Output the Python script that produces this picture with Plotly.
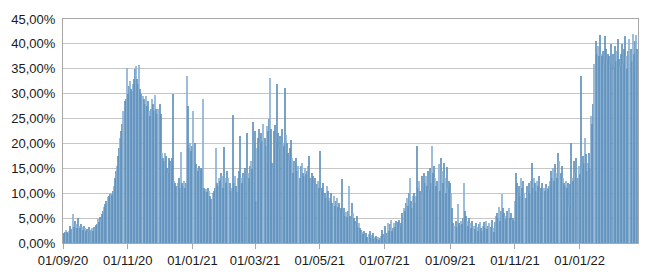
import pandas as pd
import plotly.graph_objects as go

# Daily values (%), one list per month
sep20 = [1.8, 2.0, 2.3, 2.6, 2.2, 2.0, 2.5,
         3.5, 2.8, 5.8, 3.2, 4.5, 3.8, 3.0,
         5.0, 3.5, 3.0, 3.8, 3.3, 2.6, 3.5,
         3.0, 2.4, 2.8, 2.2, 3.2, 2.6, 3.0,
         2.5, 3.2]
oct20 = [3.0, 3.6, 3.8, 4.8, 4.2, 5.3, 4.5,
         5.8, 6.5, 7.2, 7.8, 8.5, 9.2, 9.5,
         9.8, 10.0, 9.6, 10.5, 11.5, 13.0, 14.5,
         15.5, 17.5, 19.0, 21.0, 22.5, 24.0, 26.5,
         28.5, 29.0, 35.2]
nov20 = [30.0, 31.5, 32.5, 31.0, 30.5, 32.0, 33.0,
         35.0, 35.5, 33.0, 32.0, 35.8, 31.0, 30.0,
         29.5, 29.0, 28.0, 29.5, 27.5, 28.5, 26.5,
         25.5, 27.0, 29.0, 28.0, 26.5, 29.8, 27.0,
         26.0, 27.0]
dec20 = [28.0, 26.0, 18.0, 17.0, 16.5, 18.0, 17.5,
         15.0, 14.0, 17.0, 16.5, 15.5, 17.0, 30.0,
         12.5, 12.0, 11.5, 12.0, 13.0, 11.0, 18.3,
         12.0, 11.5, 12.5, 11.0, 12.0, 33.5, 27.6,
         19.0, 20.0, 18.5]
jan21 = [19.5, 26.6, 20.0, 15.8, 15.0, 14.5, 15.5,
         14.5, 15.0, 14.8, 29.0, 11.0, 10.5, 10.8,
         10.2, 11.0, 10.5, 9.5, 8.9, 10.0, 10.5,
         11.0, 19.0, 12.0, 11.5, 13.0, 12.5, 14.0,
         13.5, 11.0, 19.2]
feb21 = [13.0, 12.0, 14.5, 13.0, 12.0, 10.5, 11.0,
         25.7, 12.0, 13.5, 11.5, 10.2, 13.0, 14.5,
         21.4, 13.0, 12.0, 14.0, 13.5, 15.0, 22.0,
         14.0, 13.0, 15.5, 16.5, 14.8, 24.3, 20.0]
mar21 = [22.5, 8.5, 19.0, 21.0, 23.0, 20.0, 22.0,
         20.5, 24.0, 21.0, 19.5, 23.5, 22.5, 25.0,
         33.2, 23.0, 16.0, 15.0, 22.5, 23.7, 20.0,
         31.9, 22.0, 19.0, 21.5, 23.0, 20.0, 19.5,
         31.2, 21.7, 20.0]
apr21 = [18.0, 16.5, 19.0, 20.7, 17.0, 14.0, 16.5,
         16.0, 17.0, 14.5, 15.5, 13.0, 15.5, 16.0,
         14.0, 13.5, 15.0, 13.8, 14.5, 15.5, 17.5,
         13.0, 12.5, 14.0, 13.5, 12.0, 13.0, 11.8,
         12.5, 11.0]
may21 = [18.5, 10.5, 11.0, 12.0, 9.5, 10.0, 9.0,
         11.5, 10.5, 8.5, 9.0, 10.0, 8.0, 9.5,
         7.5, 8.5, 9.0, 7.2, 8.0, 6.5, 7.0,
         12.8, 6.0, 7.0, 5.5, 6.2, 5.3, 6.5,
         11.5, 5.5, 8.0]
jun21 = [6.0, 5.0, 4.5, 3.8, 5.5, 3.3, 4.0,
         3.0, 2.6, 2.2, 1.8, 2.5, 1.5, 2.0,
         1.2, 1.8, 2.4, 1.0, 1.6, 2.0, 0.8,
         1.2, 1.5, 0.9, 1.3, 0.7, 1.0, 1.4,
         2.6, 1.8]
jul21 = [1.3, 3.5, 2.0, 4.0, 2.5, 3.8, 4.6,
         2.5, 3.0, 4.0, 3.3, 4.5, 3.6, 4.2,
         4.6, 3.5, 4.0, 6.0, 7.0, 6.5, 8.0,
         9.0, 7.5, 10.0, 13.0, 8.5, 7.0, 9.5,
         10.0, 8.0, 9.5]
aug21 = [19.4, 11.0, 12.5, 10.5, 13.5, 10.0, 14.0,
         12.0, 13.5, 11.5, 14.5, 10.5, 15.0, 12.0,
         19.4, 14.0, 15.5, 13.0, 11.5, 12.5, 15.8,
         10.5, 17.0, 14.5, 12.0, 16.0, 13.0, 10.0,
         15.3, 11.0, 12.5]
sep21 = [12.0, 10.0, 7.0, 4.0, 3.5, 4.5, 3.3,
         7.9, 4.0, 3.6, 4.5, 3.8, 5.0, 12.0,
         6.5, 5.5, 4.5, 3.5, 5.0, 4.0, 3.0,
         4.5, 3.5, 2.8, 4.0, 3.2, 2.5, 3.8,
         4.2, 3.0]
oct21 = [2.5, 3.5, 4.2, 3.0, 4.5, 2.8, 3.5,
         4.0, 3.2, 4.6, 3.0, 2.2, 4.3, 5.5,
         6.0, 5.0, 7.2, 4.5, 6.5, 9.9, 7.0,
         6.0, 5.5, 4.8, 6.5, 7.0, 5.0, 6.0,
         4.6, 5.0, 4.5]
nov21 = [8.5, 14.1, 12.0, 10.0, 11.5, 9.5, 13.0,
         11.0, 12.5, 10.0, 9.0, 11.5, 10.5, 12.0,
         10.0, 12.5, 16.0, 11.0, 13.0, 12.0, 10.5,
         12.5, 11.5, 13.5, 10.5, 11.0, 12.0, 11.0,
         10.5, 11.8]
dec21 = [11.0, 10.8, 11.5, 12.5, 14.5, 13.0, 15.0,
         12.5, 15.8, 14.0, 13.0, 18.0, 16.5, 14.0,
         15.5, 13.0, 12.0, 11.5, 12.5, 11.0, 12.0,
         7.2, 11.8, 20.0, 13.0, 12.5, 16.5, 14.0,
         17.0, 13.0, 15.5]
jan22 = [13.8, 33.5, 15.0, 17.5, 16.0, 21.0, 17.8,
         14.5, 16.0, 18.0, 15.0, 25.6, 24.0, 28.0,
         36.0, 40.5, 38.0, 39.5, 37.5, 41.8, 38.0,
         37.5, 38.5, 36.0, 41.5, 39.0, 36.5, 38.0,
         37.5, 36.0, 40.0]
feb22 = [38.0, 35.0, 39.5, 36.5, 38.5, 41.0, 37.0,
         35.5, 38.0, 40.0, 36.0, 39.0, 41.5, 37.5,
         35.0, 38.5, 41.0, 39.0, 36.5, 42.0, 38.0,
         40.5, 41.8, 39.0]

months = [sep20, oct20, nov20, dec20, jan21, feb21, mar21, apr21, may21,
          jun21, jul21, aug21, sep21, oct21, nov21, dec21, jan22, feb22]
values_pct = [v for m in months for v in m]
values = [v / 100 for v in values_pct]
dates = pd.date_range("2020-09-01", periods=len(values), freq="D")

# subtle light/dark striping, as in the original rendering
bar_colors = ["#8ab2d4" if i % 3 == 0 else "#5f90bc" for i in range(len(values))]

fig = go.Figure(go.Bar(
    x=dates, y=values,
    marker=dict(color=bar_colors, line=dict(width=0), opacity=0.84),
))

grid = "#c6c6c6"
axis = "#a8a8a8"
fig.update_layout(
    width=650, height=279,
    margin=dict(l=61, r=11, t=19, b=32),
    paper_bgcolor="white", plot_bgcolor="white",
    bargap=0,
    separators=",.",
    showlegend=False,
    font=dict(family="Liberation Sans, Arial, sans-serif", size=13, color="#1a1a1a"),
)
fig.update_xaxes(
    range=["2020-09-01", "2022-02-25"],
    tick0="2020-09-01", dtick="M2", tickformat="%d/%m/%y",
    ticks="outside", ticklen=5, tickcolor=axis,
    showline=True, linecolor=axis, linewidth=1, mirror=True,
    showgrid=False,
)
fig.update_yaxes(
    range=[0, 0.45], dtick=0.05, tickformat=".2%",
    ticks="outside", ticklen=4, tickcolor="white",
    showline=True, linecolor=axis, linewidth=1, mirror=True,
    showgrid=True, gridcolor=grid, gridwidth=1,
    zeroline=False,
)
fig.write_html("out.html")
